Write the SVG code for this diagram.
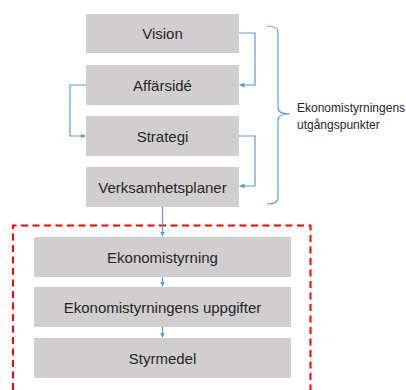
<svg xmlns="http://www.w3.org/2000/svg" width="406" height="390" viewBox="0 0 406 390">
<style>
.box{fill:#d0cece}
.lbl{font-family:"Liberation Sans",Arial,sans-serif;font-size:15px;fill:#262626;text-anchor:middle}
.side{font-family:"Liberation Sans",Arial,sans-serif;font-size:12px;fill:#262626}
.con{fill:none;stroke:#5b9bd5;stroke-width:1.2}
</style>
<defs>
<marker id="ah" viewBox="0 0 10 10" refX="10" refY="5" markerWidth="5" markerHeight="5" markerUnits="userSpaceOnUse" orient="auto">
<path d="M0,0 L10,5 L0,10 z" fill="#5b9bd5"/>
</marker>
</defs>
<rect width="406" height="390" fill="#fff"/>
<g id="frame">
<path d="M13,390 V225.5 H310.5 V390" fill="none" stroke="#ff0000" stroke-width="2" stroke-dasharray="7,4.5"/>
</g>
<g id="vision"><rect class="box" x="86" y="14" width="153" height="39"/><text class="lbl" x="162.5" y="39">Vision</text></g>
<g id="affarside"><rect class="box" x="86" y="65" width="153" height="40"/><text class="lbl" x="162.5" y="90.5">Affärsidé</text></g>
<g id="strategi"><rect class="box" x="86" y="116" width="153" height="40"/><text class="lbl" x="162.5" y="141.5">Strategi</text></g>
<g id="verksamhetsplaner"><rect class="box" x="86" y="167" width="153" height="40"/><text class="lbl" x="162.5" y="192.5">Verksamhetsplaner</text></g>
<g id="ekonomistyrning"><rect class="box" x="34" y="237" width="257" height="40"/><text class="lbl" x="162.5" y="262.5">Ekonomistyrning</text></g>
<g id="uppgifter"><rect class="box" x="34" y="287" width="257" height="40"/><text class="lbl" x="162.5" y="312.5">Ekonomistyrningens uppgifter</text></g>
<g id="styrmedel"><rect class="box" x="34" y="338" width="257" height="40"/><text class="lbl" x="162.5" y="363.5">Styrmedel</text></g>
<g id="brace">
<path d="M267,26 Q278,26 278,32 V108 Q278,114 290,114 Q278,114 278,120 V198 Q278,204 267,204" fill="none" stroke="#5b9bd5" stroke-width="1.2"/>
<text class="side" x="297" y="112">Ekonomistyrningens</text>
<text class="side" x="297" y="129">utgångspunkter</text>
</g>
<g id="connectors">
<path class="con" d="M239,33 H255 V85 H239.5" marker-end="url(#ah)"/>
<path class="con" d="M86,85 H70 V136 H85.5" marker-end="url(#ah)"/>
<path class="con" d="M239,136 H255 V186 H239.5" marker-end="url(#ah)"/>
<path class="con" d="M162.5,207 V236.5" marker-end="url(#ah)"/>
<path class="con" d="M162.5,277 V286.5" marker-end="url(#ah)"/>
<path class="con" d="M162.5,327 V337.5" marker-end="url(#ah)"/>
</g>
</svg>
